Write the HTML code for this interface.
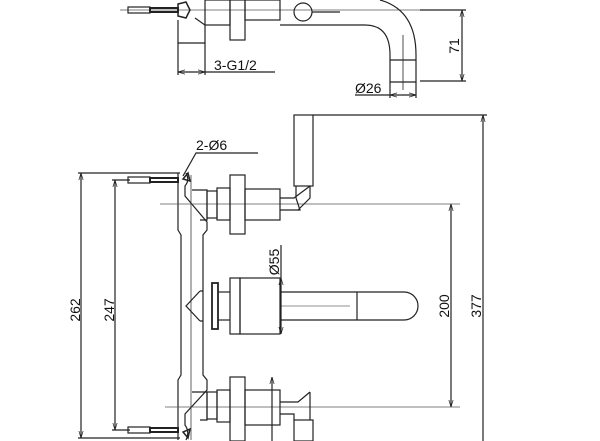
<!DOCTYPE html>
<html><head><meta charset="utf-8"><style>
html,body{margin:0;padding:0;background:#fff;width:600px;height:441px;overflow:hidden}
svg{display:block}
text{font-family:"Liberation Sans",sans-serif;font-size:14px;fill:#111}
</style></head><body>
<svg width="600" height="441" viewBox="0 0 600 441" xmlns="http://www.w3.org/2000/svg">
<defs><marker id="a" viewBox="0 0 10 10" refX="10" refY="5" markerWidth="6" markerHeight="6" orient="auto-start-reverse"><path d="M0,2 L10,5 L0,8" fill="none" stroke="#222" stroke-width="1"/></marker></defs>
<g fill="none" stroke="#222" stroke-width="1.2">
<!-- TOP VIEW -->
<line x1="120" y1="10" x2="466" y2="10" stroke="#555" stroke-width="0.8"/>
<rect x="128" y="7" width="22" height="6"/><rect x="150" y="8" width="28" height="4" stroke-width="2"/>
<path d="M178,4 L186,2 L190,10 L186,18 L178,16 Z" stroke-width="1.5"/>
<path d="M178,20 L178,43 L205,43 L205,25 L195,18"/>
<rect x="205" y="0" width="25" height="25"/>
<rect x="230" y="0" width="15" height="40"/>
<rect x="245" y="0" width="35" height="20"/>
<circle cx="303" cy="12" r="9"/>
<line x1="312" y1="12" x2="340" y2="12"/>
<path d="M380,0 Q416,10 416,55 L416,82 L390,82 L390,55 Q390,25 365,25 L280,25"/>
<line x1="390" y1="60" x2="416" y2="60"/>
<line x1="403" y1="35" x2="403" y2="90" stroke-width="0.8"/>
<line x1="420" y1="10" x2="466" y2="10"/><line x1="420" y1="81" x2="466" y2="81"/>
<line x1="462" y1="10" x2="462" y2="81" marker-start="url(#a)" marker-end="url(#a)"/>
<line x1="178" y1="43" x2="178" y2="75"/><line x1="205" y1="43" x2="205" y2="75"/>
<line x1="178" y1="72" x2="205" y2="72" marker-start="url(#a)" marker-end="url(#a)"/>
<line x1="205" y1="72" x2="275" y2="72"/>
<line x1="390" y1="82" x2="390" y2="98"/><line x1="416" y1="82" x2="416" y2="98"/>
<line x1="355" y1="95" x2="390" y2="95"/>
<line x1="390" y1="95" x2="416" y2="95" marker-start="url(#a)" marker-end="url(#a)"/>

<!-- FRONT VIEW -->
<line x1="78" y1="173" x2="180" y2="173"/><line x1="78" y1="438" x2="180" y2="438"/>
<line x1="81" y1="173" x2="81" y2="438" marker-start="url(#a)" marker-end="url(#a)"/>
<line x1="112" y1="180" x2="130" y2="180"/><line x1="112" y1="430" x2="130" y2="430"/>
<line x1="115" y1="180" x2="115" y2="430" marker-start="url(#a)" marker-end="url(#a)"/>
<rect x="128" y="177" width="22" height="6"/><rect x="150" y="178" width="28" height="4" stroke-width="2"/>
<rect x="128" y="427" width="22" height="6"/><rect x="150" y="428" width="28" height="4" stroke-width="2"/>
<path d="M178,173 L178,230 L181,235 L181,375 L178,380 L178,440"/>
<path d="M186,173 Q190,180 185,186 L185,196 L207,222 L207,230 L203,235 L203,375 L207,380 L207,390 L185,414 L185,425 Q190,432 186,440"/>
<line x1="191" y1="175" x2="191" y2="440" stroke-width="0.7"/>
<path d="M183,179 L188,173 L190,181 Z" stroke-width="1.5"/>
<path d="M183,432 L188,438 L190,429 Z" stroke-width="1.5"/>
<line x1="160" y1="204" x2="460" y2="204" stroke="#555" stroke-width="0.8"/>
<path d="M192,190 L207,190 L207,220 L200,220"/>
<rect x="207" y="191" width="10" height="27"/>
<rect x="217" y="188" width="13" height="32"/>
<rect x="230" y="175" width="15" height="59"/>
<rect x="245" y="189" width="35" height="31"/>
<path d="M280,198 L294,198 L310,186 M280,210 L300,210 L296,198 M310,186 L310,198 L298,210"/>
<rect x="294" y="115" width="19" height="71"/>
<line x1="296" y1="186" x2="296" y2="198"/>
<path d="M200,291 L186,306 L200,321 M200,291 L203,291 M200,321 L203,321"/>
<rect x="212" y="283" width="6" height="46" stroke-width="1.8"/>
<line x1="218" y1="292" x2="230" y2="292"/><line x1="218" y1="320" x2="230" y2="320"/>
<rect x="230" y="278" width="10" height="56"/>
<rect x="240" y="278" width="40" height="56"/>
<path d="M280,292 L404,292 A14,14 0 0 1 404,320 L280,320"/>
<line x1="357" y1="292" x2="357" y2="320"/>
<line x1="280" y1="306" x2="350" y2="306" stroke-width="0.5"/>
<line x1="281" y1="245" x2="281" y2="278"/>
<line x1="281" y1="278" x2="281" y2="334" marker-start="url(#a)" marker-end="url(#a)"/>
<line x1="165" y1="407" x2="460" y2="407" stroke="#555" stroke-width="0.8"/>
<path d="M192,392 L207,392 L207,420 L200,420"/>
<rect x="207" y="392" width="10" height="27"/>
<rect x="217" y="390" width="13" height="32"/>
<rect x="230" y="377" width="15" height="64"/>
<rect x="245" y="390" width="35" height="35"/>
<path d="M280,402 L298,402 L310,392 M280,414 L294,414 L294,420 M310,392 L310,420"/>
<rect x="294" y="420" width="19" height="21"/>
<line x1="272" y1="377" x2="272" y2="441" marker-start="url(#a)"/>
<line x1="313" y1="115" x2="487" y2="115"/>
<line x1="451" y1="204" x2="451" y2="407" marker-start="url(#a)" marker-end="url(#a)"/>
<line x1="483" y1="115" x2="483" y2="441" marker-start="url(#a)"/>
<path d="M258,153 L196,153 L183,176"/>
</g>
<text x="214" y="70">3-G1/2</text>
<text x="355" y="93">Ø26</text>
<text transform="translate(459,46) rotate(-90)" text-anchor="middle">71</text>
<text x="196" y="150">2-Ø6</text>
<text transform="translate(80,310) rotate(-90)" text-anchor="middle">262</text>
<text transform="translate(114,310) rotate(-90)" text-anchor="middle">247</text>
<text transform="translate(279,262) rotate(-90)" text-anchor="middle">Ø55</text>
<text transform="translate(449,306) rotate(-90)" text-anchor="middle">200</text>
<text transform="translate(481,306) rotate(-90)" text-anchor="middle">377</text>
</svg>
</body></html>
